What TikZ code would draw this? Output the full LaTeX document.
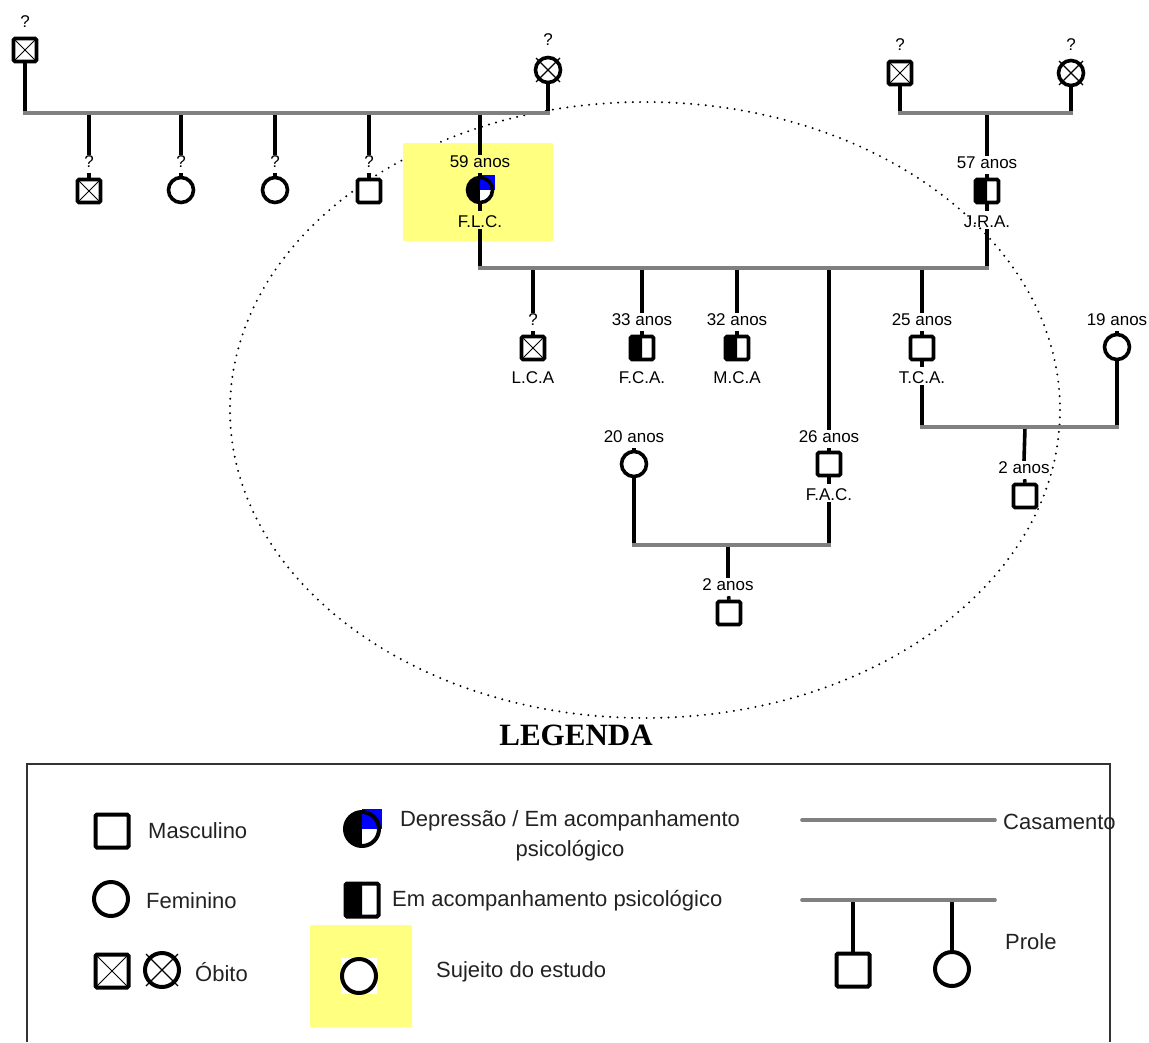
\documentclass[tikz,border=0pt]{standalone}
\usepackage{fontspec}
\setmainfont{Liberation Sans}
\newfontfamily\legserif{Liberation Serif}
\definecolor{mgray}{RGB}{128,128,128}
\definecolor{hl}{RGB}{255,255,128}
\definecolor{legtxt}{RGB}{34,34,34}
\begin{document}
\begin{tikzpicture}[x=1pt,y=-1pt,
  marr/.style={line width=3.6pt, draw=mgray, shorten <=-1.8pt, shorten >=-1.8pt},
  desc/.style={line width=3.6pt, draw=black},
  male/.style={draw, rectangle, line width=3.6pt, minimum size=23pt, inner sep=0pt, rounded corners=1.5pt, fill=white},
  fem/.style={draw, circle, line width=3.6pt, minimum size=25pt, inner sep=0pt, fill=white},
  lmale/.style={male, line width=4pt, minimum size=33pt},
  lfem/.style={fem, line width=4pt, minimum size=34pt},
  deadsq/.style={path picture={\draw[line width=1pt] (path picture bounding box.south west) -- (path picture bounding box.north east) (path picture bounding box.north west) -- (path picture bounding box.south east);}},
  halfblk/.style={path picture={\fill[black] (path picture bounding box.south west) rectangle (path picture bounding box.north);}},
  depr/.style={fill=blue, path picture={\fill[black] (path picture bounding box.south west) rectangle (path picture bounding box.north); \fill[white] (path picture bounding box.center) rectangle (path picture bounding box.south east);}},
  lab/.style={font=\fontsize{17}{19}\selectfont, inner sep=1pt},
  legt/.style={font=\fontsize{22}{26}\selectfont, text=legtxt, inner sep=0pt, anchor=west},
  xmark/.style={line width=1.2pt},
  dotell/.style={line width=2.2pt, line cap=round, dash pattern=on 0pt off 7.3pt},
]
\useasboundingbox (0,0) rectangle (1149,1042);

% dotted ellipse and highlight
\draw[dotell] (645,410) ellipse [x radius=415, y radius=308];
\fill[hl, rounded corners=1pt] (403,143) rectangle (553,241);

% ---------- left grandparents ----------
\node[male,deadsq] (gf1) at (25,50) {};
\node[lab] (qgf1) at (25,22) {?};
\node[fem] (gm1) at (548,70) {};
\draw[xmark] ([shift={(-12,-12)}]gm1.center) -- ([shift={(12,12)}]gm1.center);
\draw[xmark] ([shift={(-12,12)}]gm1.center) -- ([shift={(12,-12)}]gm1.center);
\node[lab] (qgm1) at (548,40) {?};
\coordinate (m1a) at (25,113);
\coordinate (m1b) at (548,113);
\draw[desc] (gf1.south) -- (m1a);
\draw[desc] (gm1.south) -- (m1b);

% children of left grandparents
\coordinate (d1) at (89,113);
\coordinate (d2) at (181,113);
\coordinate (d3) at (275,113);
\coordinate (d4) at (369,113);
\coordinate (d5) at (480,113);
\node[lab] (q1) at (89,162) {?};
\node[male,deadsq] (s1) at (89,191) {};
\node[lab] (q2) at (181,162) {?};
\node[fem] (s2) at (181,190) {};
\node[lab] (q3) at (275,162) {?};
\node[fem] (s3) at (275,190) {};
\node[lab] (q4) at (369,162) {?};
\node[male] (s4) at (369,191) {};
\node[lab] (a59) at (480,162) {59 anos};
\fill[blue] (480,190) rectangle (495,175);
\node[fem,depr] (flc) at (480,190) {};
\node[lab] (nflc) at (480,222) {F.L.C.};
\foreach \d/\q/\s in {d1/q1/s1,d2/q2/s2,d3/q3/s3,d4/q4/s4,d5/a59/flc}{
  \draw[desc] (\d) -- (\q.north);
  \draw[desc, shorten <=4pt] (\q.south) -- (\s.north);
}
\draw[marr] (m1a) -- (m1b);

% ---------- right grandparents ----------
\node[male,deadsq] (gf2) at (900,73) {};
\node[lab] (qgf2) at (900,45) {?};
\node[fem] (gm2) at (1071,73) {};
\draw[xmark] ([shift={(-12,-12)}]gm2.center) -- ([shift={(12,12)}]gm2.center);
\draw[xmark] ([shift={(-12,12)}]gm2.center) -- ([shift={(12,-12)}]gm2.center);
\node[lab] (qgm2) at (1071,45) {?};
\coordinate (m2a) at (900,113);
\coordinate (m2b) at (1071,113);
\coordinate (d6) at (987,113);
\draw[desc] (gf2.south) -- (m2a);
\draw[desc] (gm2.south) -- (m2b);
\node[lab] (a57) at (987,163) {57 anos};
\node[male,halfblk] (jra) at (987,191) {};
\node[lab] (njra) at (987,222) {J.R.A.};
\draw[desc] (d6) -- (a57.north);
\draw[desc, shorten <=4pt] (a57.south) -- (jra.north);
\draw[marr] (m2a) -- (m2b);

% ---------- main couple ----------
\coordinate (m3a) at (480,268);
\coordinate (m3b) at (987,268);
\draw[desc, shorten >=4pt] (flc.south) -- (nflc.north);
\draw[desc] (nflc.south) -- (m3a);
\draw[desc, shorten >=4pt] (jra.south) -- (njra.north);
\draw[desc] (njra.south) -- (m3b);

\coordinate (e1) at (533,268);
\coordinate (e2) at (642,268);
\coordinate (e3) at (737,268);
\coordinate (e4) at (829,268);
\coordinate (e5) at (922,268);
\node[lab] (qlca) at (533,320) {?};
\node[male,deadsq] (lca) at (533,348) {};
\node[lab] (nlca) at (533,378) {L.C.A};
\node[lab] (a33) at (642,320) {33 anos};
\node[male,halfblk] (fca) at (642,348) {};
\node[lab] (nfca) at (642,378) {F.C.A.};
\node[lab] (a32) at (737,320) {32 anos};
\node[male,halfblk] (mca) at (737,348) {};
\node[lab] (nmca) at (737,378) {M.C.A};
\node[lab] (a25) at (922,320) {25 anos};
\node[male] (tca) at (922,348) {};
\node[lab] (ntca) at (922,378) {T.C.A.};
\node[lab] (a26) at (829,437) {26 anos};
\node[male] (fac) at (829,464) {};
\node[lab] (nfac) at (829,495) {F.A.C.};
\foreach \d/\q/\s in {e1/qlca/lca,e2/a33/fca,e3/a32/mca,e4/a26/fac,e5/a25/tca}{
  \draw[desc] (\d) -- (\q.north);
  \draw[desc, shorten <=4pt] (\q.south) -- (\s.north);
}
\draw[marr] (m3a) -- (m3b);

% ---------- T.C.A. couple ----------
\node[lab] (a19) at (1117,320) {19 anos};
\node[fem] (w19) at (1117,347) {};
\draw[desc, shorten <=4pt] (a19.south) -- (w19.north);
\coordinate (m4a) at (922,427);
\coordinate (m4b) at (1117,427);
\coordinate (d7) at (1025,427);
\draw[desc, shorten >=4pt] (tca.south) -- (ntca.north);
\draw[desc] (ntca.south) -- (m4a);
\draw[desc] (w19.south) -- (m4b);
\node[lab] (a2b) at (1024,468) {2 anos};
\node[male] (kid2) at (1025,496) {};
\draw[desc] (d7) -- (a2b.north);
\draw[desc, shorten <=4pt] (a2b.south) -- (kid2.north);
\draw[marr] (m4a) -- (m4b);

% ---------- F.A.C. couple ----------
\node[lab] (a20) at (634,437) {20 anos};
\node[fem] (w20) at (634,464) {};
\draw[desc, shorten <=4pt] (a20.south) -- (w20.north);
\coordinate (m5a) at (634,545);
\coordinate (m5b) at (829,545);
\coordinate (d8) at (728,545);
\draw[desc, shorten >=4pt] (fac.south) -- (nfac.north);
\draw[desc] (nfac.south) -- (m5b);
\draw[desc] (w20.south) -- (m5a);
\node[lab] (a2a) at (728,585) {2 anos};
\node[male] (kid1) at (729,613) {};
\draw[desc] (d8) -- (a2a.north);
\draw[desc, shorten <=4pt] (a2a.south) -- (kid1.north);
\draw[marr] (m5a) -- (m5b);

% ---------- legend ----------
\node[font=\legserif\bfseries\fontsize{31}{34}\selectfont] (legtitle) at (576,735) {LEGENDA};
\draw[line width=2pt, draw=black!80] (27,1042) -- (27,764) -- (1110,764) -- (1110,1042);

\node[lmale] (lm) at (112,831) {};
\node[legt] (tm) at (148,831) {Masculino};
\node[lfem] (lf) at (111,899) {};
\node[legt] (tf) at (146,901) {Feminino};
\node[lmale,deadsq] (ld1) at (112,971) {};
\node[lfem] (ld2) at (162,970) {};
\draw[xmark] ([shift={(-16,-16)}]ld2.center) -- ([shift={(16,16)}]ld2.center);
\draw[xmark] ([shift={(-16,16)}]ld2.center) -- ([shift={(16,-16)}]ld2.center);
\node[legt] (tob) at (195,972) {Óbito};

\fill[blue] (362,829) rectangle (382,809);
\node[lfem,depr] (ldep) at (362,829) {};
\node[font=\fontsize{22}{30}\selectfont, text=legtxt, align=center, inner sep=0pt] (tdep) at (570,836) {Depressão / Em acompanhamento\\psicológico};
\node[lmale,halfblk] (lh) at (362,900) {};
\node[legt] (th) at (392,901) {Em acompanhamento psicológico};

\fill[hl, rounded corners=1pt] (310,925) rectangle (412,1027);
\fill[white] (341,958) rectangle (377,994);
\node[lfem] (lsub) at (359,976) {};
\node[legt] (ts) at (436,972) {Sujeito do estudo};

\coordinate (ca) at (802,820);
\coordinate (cb) at (995,820);
\draw[marr, line cap=round, shorten <=0pt, shorten >=0pt] (ca) -- (cb);
\node[legt] (tc) at (1003,822) {Casamento};

\coordinate (pa) at (802,900);
\coordinate (pb) at (995,900);
\coordinate (pd1) at (853,900);
\coordinate (pd2) at (952,900);
\node[lmale] (ps) at (853,970) {};
\node[lfem] (pc) at (952,969) {};
\draw[desc] (pd1) -- (ps.north);
\draw[desc] (pd2) -- (pc.north);
\draw[marr, line cap=round, shorten <=0pt, shorten >=0pt] (pa) -- (pb);
\node[legt] (tp) at (1005,942) {Prole};
\end{tikzpicture}
\end{document}
